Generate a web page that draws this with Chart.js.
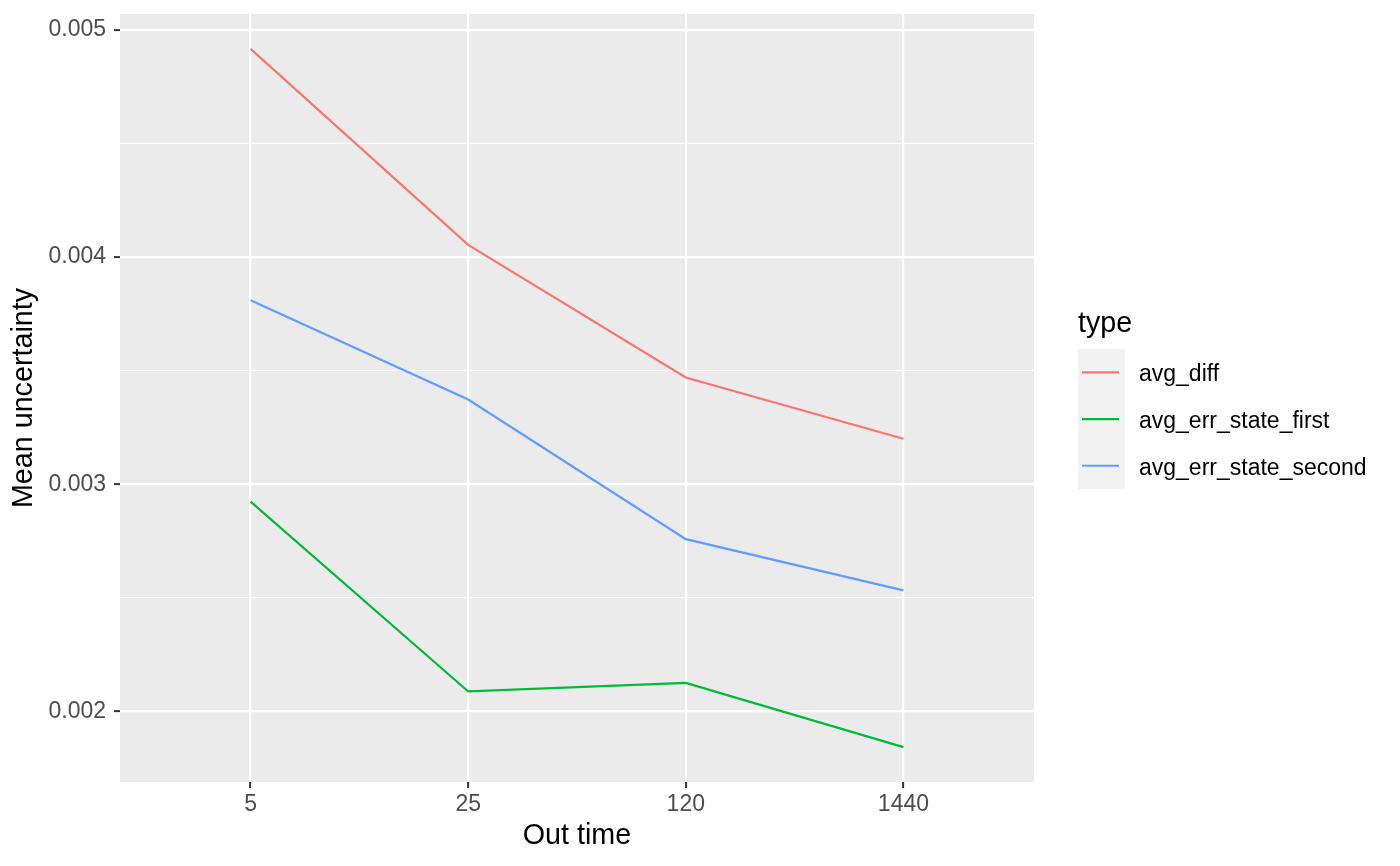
<!DOCTYPE html>
<html><head><meta charset="utf-8">
<script src="https://cdn.jsdelivr.net/npm/chart.js@4"></script>
<style>html,body{margin:0;padding:0;background:#fff}canvas{display:block}</style>
</head><body>
<canvas id="c" width="1400" height="866"></canvas>
<script>
// ---- data ----
const categories = ['5', '25', '120', '1440'];
const avgDiff = [0.004917, 0.004054, 0.003470, 0.003200];
const avgErrStateFirst = [0.002923, 0.002087, 0.002125, 0.001842];
const avgErrStateSecond = [0.003810, 0.003373, 0.002758, 0.002532];
const seriesNames = ['avg_diff', 'avg_err_state_first', 'avg_err_state_second'];
const seriesColors = ['#F8766D', '#00BA38', '#619CFF'];
const yMajorTicks = [0.002, 0.003, 0.004, 0.005];
const yMinorTicks = [0.0025, 0.0035, 0.0045];
const xTitle = 'Out time';
const yTitle = 'Mean uncertainty';
const legendTitle = 'type';

const FONT = "'Liberation Sans', Arial, sans-serif";
const seriesValues = [avgDiff, avgErrStateFirst, avgErrStateSecond];
const allVals = seriesValues.flat();
const dMin = Math.min(...allVals), dMax = Math.max(...allVals);
const ex = (dMax - dMin) * 0.05;
const isMajor = v => yMajorTicks.some(m => Math.abs(m - v) < 1e-9);

const bgPlugin = {
  id: 'panelBg',
  beforeDraw(chart) {
    const { ctx, chartArea: a } = chart;
    ctx.save();
    ctx.fillStyle = '#EBEBEB';
    ctx.fillRect(a.left, a.top, a.right - a.left, a.bottom - a.top);
    ctx.restore();
  }
};

const legendPlugin = {
  id: 'ggLegend',
  afterDraw(chart) {
    const ctx = chart.ctx;
    ctx.save();
    ctx.fillStyle = '#000';
    ctx.font = `28.7px ${FONT}`;
    ctx.textBaseline = 'alphabetic';
    ctx.textAlign = 'left';
    ctx.fillText(legendTitle, 1078, 332);
    const keyX = 1078, keyY = 349, keyW = 47, keyH = 46.7;
    ctx.fillStyle = '#F2F2F2';
    ctx.fillRect(keyX, keyY, keyW, keyH * seriesNames.length);
    seriesNames.forEach((name, i) => {
      const cy = keyY + keyH * i + keyH / 2;
      ctx.strokeStyle = seriesColors[i];
      ctx.lineWidth = 2.2;
      ctx.beginPath();
      ctx.moveTo(keyX + 4, cy);
      ctx.lineTo(keyX + keyW - 6, cy);
      ctx.stroke();
      ctx.fillStyle = '#000';
      ctx.font = `23px ${FONT}`;
      ctx.fillText(name, 1139, cy + 9);
    });
    ctx.restore();
  }
};

new Chart(document.getElementById('c'), {
  type: 'line',
  data: {
    datasets: seriesNames.map((name, s) => ({
      label: name,
      data: seriesValues[s].map((v, i) => ({ x: i + 1, y: v })),
      borderColor: seriesColors[s],
      backgroundColor: seriesColors[s],
      borderWidth: 2.2,
      pointRadius: 0,
      tension: 0,
      fill: false
    }))
  },
  options: {
    responsive: false,
    devicePixelRatio: 1,
    animation: false,
    layout: { padding: { top: 14, right: 366, left: 0, bottom: 0 } },
    plugins: { legend: { display: false }, tooltip: { enabled: false } },
    scales: {
      x: {
        type: 'linear',
        min: 0.4,
        max: categories.length + 0.6,
        afterBuildTicks: s => { s.ticks = categories.map((c, i) => ({ value: i + 1 })); },
        afterFit: s => { s.height = 84; s.paddingLeft = 0; s.paddingRight = 0; },
        ticks: {
          callback: v => categories[Math.round(v) - 1],
          color: '#4D4D4D',
          font: { family: FONT, size: 23 },
          padding: 3,
          autoSkip: false,
          maxRotation: 0
        },
        grid: {
          color: '#FFFFFF',
          lineWidth: 2.2,
          drawTicks: true,
          tickLength: 6,
          tickColor: '#333333',
          tickWidth: 2
        },
        border: { display: false },
        title: {
          display: true,
          text: xTitle,
          color: '#000000',
          font: { family: FONT, size: 28.7 },
          padding: { top: 0, bottom: 13 }
        }
      },
      y: {
        type: 'linear',
        min: dMin - ex,
        max: dMax + ex,
        afterBuildTicks: s => {
          s.ticks = [...yMajorTicks, ...yMinorTicks].sort((a, b) => a - b).map(v => ({ value: v }));
        },
        afterFit: s => { s.width = 120; s.paddingTop = 0; s.paddingBottom = 0; },
        ticks: {
          callback: v => isMajor(v) ? v.toFixed(3) : '',
          color: '#4D4D4D',
          font: { family: FONT, size: 23 },
          padding: 8,
          autoSkip: false
        },
        grid: {
          color: '#FFFFFF',
          lineWidth: ctx => isMajor(ctx.tick.value) ? 2.2 : 1.1,
          drawTicks: true,
          tickLength: 6,
          tickColor: ctx => isMajor(ctx.tick.value) ? '#333333' : 'rgba(0,0,0,0)',
          tickWidth: 2
        },
        border: { display: false },
        title: {
          display: true,
          text: yTitle,
          color: '#000000',
          font: { family: FONT, size: 28.7 },
          padding: { top: 7, bottom: 0 }
        }
      }
    }
  },
  plugins: [bgPlugin, legendPlugin]
});
</script>
</body></html>
